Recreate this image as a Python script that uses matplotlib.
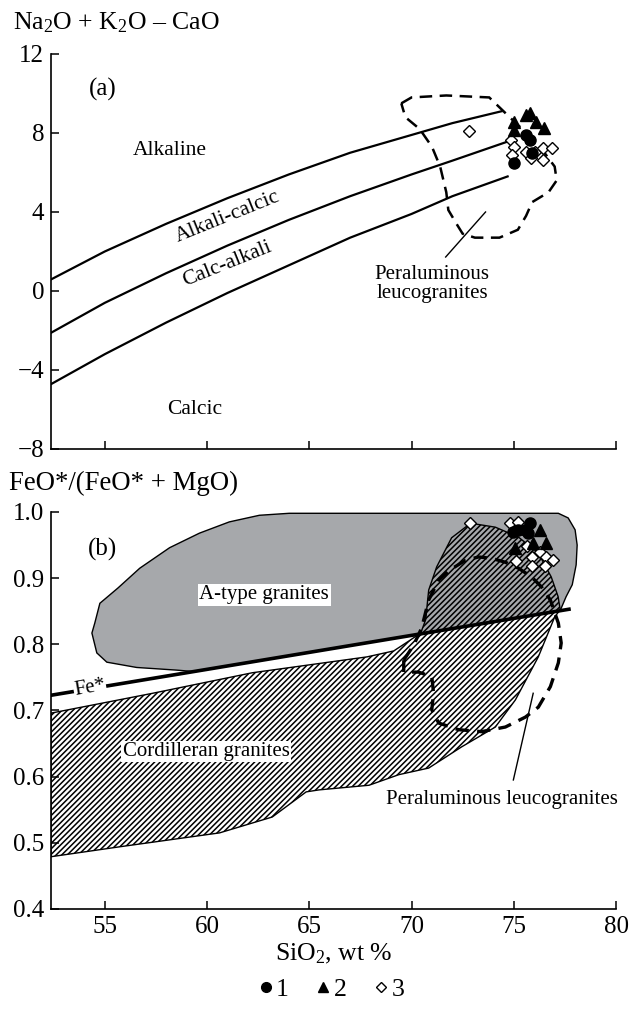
import matplotlib as mpl
mpl.use('Agg')
import matplotlib.pyplot as plt
from matplotlib.patches import Polygon
from matplotlib.lines import Line2D

plt.rcParams['font.family'] = ['Liberation Serif', 'DejaVu Serif']
plt.rcParams['mathtext.fontset'] = 'custom'
plt.rcParams['mathtext.rm'] = 'Liberation Serif'
plt.rcParams['mathtext.it'] = 'Liberation Serif:italic'
plt.rcParams['hatch.linewidth'] = 1.1

# ---- panel (a): Na2O + K2O - CaO vs SiO2 ----
bx = [52.4, 55, 58, 61, 64, 67, 70, 72, 74.4]
alk_line = [0.6, 2.0, 3.4, 4.7, 5.9, 7.0, 7.9, 8.5, 9.1]
bx2 = [52.4, 55, 58, 61, 64, 67, 70, 72, 74.8]
calc_alk_line = [-2.1, -0.6, 0.9, 2.3, 3.6, 4.8, 5.9, 6.6, 7.6]
bx3 = [52.4, 55, 58, 61, 64, 67, 70, 72, 74.7]
calcic_line = [-4.7, -3.2, -1.6, -0.1, 1.3, 2.7, 3.9, 4.8, 5.8]

leuco_a_x = [69.5, 70.0, 71.7, 73.8, 74.2, 75.2, 76.0, 76.5, 77.0, 77.1, 76.7, 75.9, 75.6,
             75.2, 74.3, 73.1, 72.5, 72.2, 71.8, 71.7, 71.4, 71.0, 70.4, 69.7]
leuco_a_y = [9.5, 9.8, 9.9, 9.8, 9.4, 8.4, 7.7, 7.0, 6.3, 5.6, 5.0, 4.5, 3.8,
             3.1, 2.7, 2.7, 2.9, 3.4, 4.1, 5.0, 6.3, 7.3, 8.2, 8.8]

a_circ_x = [75.6, 75.8, 75.0, 75.9]
a_circ_y = [7.9, 7.65, 6.5, 7.0]
a_tri_x = [75.0, 75.6, 75.8, 76.1, 76.5, 75.0]
a_tri_y = [8.55, 8.9, 9.0, 8.55, 8.25, 8.15]
a_dia_x = [72.8, 74.85, 75.0, 74.9, 75.6, 76.05, 76.45, 76.85, 75.85, 76.45]
a_dia_y = [8.1, 7.65, 7.3, 6.9, 7.05, 7.05, 7.25, 7.25, 6.75, 6.65]

# ---- panel (b): FeO*/(FeO*+MgO) vs SiO2 ----
fe_x = [52.37, 77.7]
fe_y = [0.723, 0.853]

atype_x = [55.64, 54.76, 54.51, 54.37, 54.61, 55.10, 56.56, 58.51, 59.29, 77.27, 77.56,
           77.86, 78.05, 78.10, 78.00, 77.66, 77.18, 64.02, 62.56, 61.09, 59.63, 58.17, 56.71]
atype_y = [0.885, 0.862, 0.832, 0.817, 0.787, 0.773, 0.765, 0.761, 0.759, 0.851, 0.872,
           0.890, 0.920, 0.950, 0.973, 0.991, 0.998, 0.998, 0.995, 0.985, 0.968, 0.946, 0.915]

cord_x = [52.37, 57.34, 62.21, 67.82, 69.13, 69.87, 70.45, 70.69, 70.84, 71.23, 71.96, 72.89,
          74.10, 75.23, 76.20, 76.83, 77.17, 77.27, 77.01, 76.20, 75.08, 74.10, 72.45, 70.84,
          69.38, 67.92, 65.48, 64.85, 63.19, 60.61, 55.73, 52.37]
cord_y = [0.696, 0.726, 0.757, 0.781, 0.790, 0.805, 0.817, 0.837, 0.882, 0.917, 0.961, 0.983,
          0.977, 0.962, 0.938, 0.902, 0.872, 0.852, 0.842, 0.781, 0.716, 0.675, 0.645, 0.613,
          0.603, 0.587, 0.580, 0.577, 0.539, 0.515, 0.494, 0.479]

leuco_b_x = [69.62, 70.11, 70.50, 70.84, 71.33, 71.86, 72.64, 73.28, 73.91, 74.59, 75.23, 75.86,
             76.35, 76.79, 77.18, 77.32, 77.18, 76.79, 76.20, 75.57, 74.59, 73.42, 72.30, 71.33,
             70.99, 71.08, 70.99, 70.35, 69.62]
leuco_b_y = [0.776, 0.799, 0.825, 0.867, 0.897, 0.912, 0.927, 0.932, 0.930, 0.924, 0.915, 0.902,
             0.887, 0.867, 0.832, 0.802, 0.772, 0.736, 0.705, 0.690, 0.675, 0.668, 0.671, 0.681,
             0.701, 0.726, 0.751, 0.758, 0.758]

b_circ_x = [74.98, 75.23, 75.55, 75.80, 75.71]
b_circ_y = [0.970, 0.973, 0.973, 0.983, 0.968]
b_tri_x = [76.28, 75.96, 76.60, 75.06]
b_tri_y = [0.973, 0.953, 0.953, 0.945]
b_dia_x = [72.87, 74.82, 75.19, 75.63, 76.28, 75.87, 76.60, 76.93, 75.11, 75.87, 76.53]
b_dia_y = [0.984, 0.983, 0.985, 0.948, 0.940, 0.932, 0.932, 0.927, 0.926, 0.918, 0.918]

xticks = [55, 60, 65, 70, 75, 80]
a_yticks = [-8, -4, 0, 4, 8, 12]
b_yticks = [0.4, 0.5, 0.6, 0.7, 0.8, 0.9, 1.0]

fig = plt.figure(figsize=(6.32, 10.11), dpi=100)
ax1 = fig.add_axes([0.0807, 0.5559, 0.894, 0.3907])
ax2 = fig.add_axes([0.0807, 0.1009, 0.894, 0.3927])

for ax in (ax1, ax2):
    ax.spines['top'].set_visible(False)
    ax.spines['right'].set_visible(False)
    ax.spines['left'].set_linewidth(1.2)
    ax.spines['bottom'].set_linewidth(1.2)
    ax.set_xlim(52.37, 80)
    ax.set_xticks(xticks)
    ax.tick_params(direction='in', length=6, width=1.1, labelsize=18, pad=5)

mk = dict(linestyle='none', color='black', zorder=6)

# panel a
ax1.set_ylim(-8, 12)
ax1.set_yticks(a_yticks)
ax1.set_yticklabels(['\u22128', '\u22124', '0', '4', '8', '12'])
ax1.tick_params(axis='x', labelbottom=False)
ax1.plot(bx, alk_line, color='black', lw=1.6)
ax1.plot(bx2, calc_alk_line, color='black', lw=1.6)
ax1.plot(bx3, calcic_line, color='black', lw=1.6)
ax1.add_patch(Polygon(list(zip(leuco_a_x, leuco_a_y)), closed=True, fill=False,
                      ls=(0, (5, 3)), lw=1.8, ec='black'))
ax1.plot([73.62, 71.67], [4.0, 1.72], color='black', lw=1.0)
ax1.plot(a_dia_x, a_dia_y, marker='D', ms=6, mfc='white', mec='black', mew=1.0, **mk)
ax1.plot(a_circ_x, a_circ_y, marker='o', ms=8, **mk)
ax1.plot(a_tri_x, a_tri_y, marker='^', ms=8, **mk)
ax1.text(54.9, 10.2, '(a)', fontsize=18, ha='center', va='center')
ax1.text(58.2, 7.1, 'Alkaline', fontsize=15.5, ha='center', va='center')
ax1.text(61.0, 3.75, 'Alkali-calcic', fontsize=15.5, ha='center', va='center', rotation=22)
ax1.text(61.0, 1.35, 'Calc-alkali', fontsize=15.5, ha='center', va='center', rotation=22)
ax1.text(59.4, -6.0, 'Calcic', fontsize=15.5, ha='center', va='center')
ax1.text(71.0, 0.35, 'Peraluminous\nleucogranites', fontsize=15, ha='center', va='center',
         linespacing=1.0)

# panel b
ax2.set_ylim(0.4, 1.0)
ax2.set_yticks(b_yticks)
ax2.set_yticklabels(['%.1f' % v for v in b_yticks])
ax2.add_patch(Polygon(list(zip(atype_x, atype_y)), closed=True, fc='#a6a8ab', ec='black',
                      lw=1.0, zorder=1))
ax2.add_patch(Polygon(list(zip(cord_x, cord_y)), closed=True, fc='none', ec='black',
                      lw=1.0, hatch='//////', zorder=2))
ax2.add_patch(Polygon(list(zip(leuco_b_x, leuco_b_y)), closed=True, fill=False,
                      ls=(0, (4, 2.5)), lw=2.4, ec='black', zorder=3))
ax2.plot(fe_x, fe_y, color='black', lw=2.6, zorder=4)
ax2.plot([75.95, 74.98], [0.726, 0.595], color='black', lw=1.0, zorder=4)
ax2.plot(b_dia_x, b_dia_y, marker='D', ms=6, mfc='white', mec='black', mew=1.0, **mk)
ax2.plot(b_circ_x, b_circ_y, marker='o', ms=8, **mk)
ax2.plot(b_tri_x, b_tri_y, marker='^', ms=8, **mk)
box = dict(fc='white', ec='none', pad=1.0)
ax2.text(54.9, 0.943, '(b)', fontsize=18, ha='center', va='center')
ax2.text(62.8, 0.875, 'A-type granites', fontsize=15, ha='center', va='center', bbox=box, zorder=5)
ax2.text(59.96, 0.638, 'Cordilleran granites', fontsize=15, ha='center', va='center',
         bbox=box, zorder=5)
ax2.text(54.27, 0.734, 'Fe*', fontsize=15, ha='center', va='center', rotation=10,
         bbox=dict(fc='white', ec='none', pad=0.5), zorder=5)
ax2.text(74.4, 0.565, 'Peraluminous leucogranites', fontsize=15, ha='center', va='center')
ax2.set_xlabel(r'SiO$_2$, wt %', fontsize=18.5, labelpad=3)

fig.text(0.02, 0.978, 'Na$_2$O + K$_2$O \u2013 CaO', fontsize=18.5, ha='left', va='center')
fig.text(0.015, 0.522, 'FeO*/(FeO* + MgO)', fontsize=19.3, ha='left', va='center')

handles = [Line2D([], [], marker='o', ms=7, **mk),
           Line2D([], [], marker='^', ms=7, **mk),
           Line2D([], [], marker='D', ms=5, mfc='white', mec='black', mew=1.0, **mk)]
fig.legend(handles, ['1', '2', '3'], loc='center', bbox_to_anchor=(0.525, 0.021), ncol=3,
           frameon=False, fontsize=18.5, handlelength=0.5, handletextpad=0.15, columnspacing=1.1)

fig.savefig('out.png', dpi=100)
